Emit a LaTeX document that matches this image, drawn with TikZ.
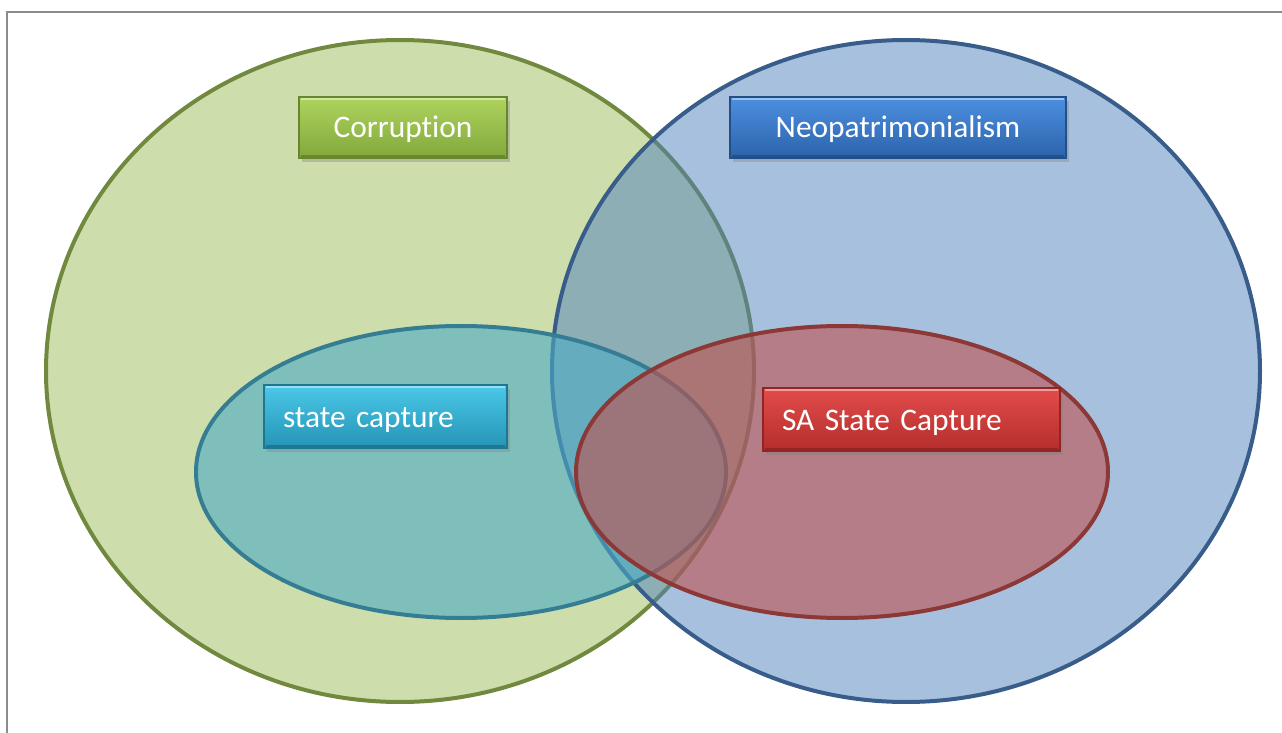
\documentclass[tikz,border=0pt]{standalone}
\usepackage{fontspec}
\setmainfont[Ligatures={NoCommon}]{Carlito}
\usetikzlibrary{shadows}
\definecolor{framegray}{HTML}{8C8C8C}
\definecolor{corrfill}{HTML}{9BBB59}
\definecolor{corrline}{HTML}{71893F}
\definecolor{neofill}{HTML}{4F81BD}
\definecolor{neoline}{HTML}{385D8A}
\definecolor{capfill}{HTML}{4BACC6}
\definecolor{capline}{HTML}{357D92}
\definecolor{safill}{HTML}{C0504D}
\definecolor{saline}{HTML}{8C3836}
\definecolor{corrtop}{HTML}{AED35E}
\definecolor{corrbot}{HTML}{82A83C}
\definecolor{neotop}{HTML}{4C8FE0}
\definecolor{neobot}{HTML}{2C63AB}
\definecolor{captop}{HTML}{4BC8E8}
\definecolor{capbot}{HTML}{2594B6}
\definecolor{satop}{HTML}{E24C4A}
\definecolor{sabot}{HTML}{B32E2D}
\begin{document}
\begin{tikzpicture}[x=0.5pt,y=-0.5pt,
    venn/.style={line width=2pt,fill opacity=0.5},
    vennsmall/.style={line width=2pt,fill opacity=0.6},
    tagbox/.style={rectangle,inner sep=0pt,text=white,font=\fontsize{15.7}{18}\selectfont,
      minimum height=30.5pt,line width=0.6pt,text height=13pt,text depth=2.5pt,
      drop shadow={shadow xshift=1.5pt,shadow yshift=-2pt,opacity=0.35},
      path picture={\draw [white,opacity=0.45,line width=1.2pt]
        ([xshift=1pt,yshift=-0.8pt]path picture bounding box.north west) --
        ([xshift=-1pt,yshift=-0.8pt]path picture bounding box.north east);
        \draw [black,opacity=0.2,line width=1.5pt]
        ([xshift=1pt,yshift=0.9pt]path picture bounding box.south west) --
        ([xshift=-1pt,yshift=0.9pt]path picture bounding box.south east);}},
    tagleft/.style={tagbox,align=left,inner xsep=9.5pt,minimum height=31.5pt}]
    \useasboundingbox (0,0) rectangle (1282,733);
    \draw [framegray, line width=1pt] (7,733) -- (7,12) -- (1282,12);
    % the four sets
    \draw [venn, draw=corrline, fill=corrfill] (400,371) ellipse [x radius=177pt, y radius=165.5pt];
    \draw [venn, draw=neoline, fill=neofill] (906,371) ellipse [x radius=177pt, y radius=165.5pt];
    \draw [vennsmall, draw=capline, fill=capfill] (461,472) ellipse [x radius=132.5pt, y radius=73pt];
    \draw [vennsmall, draw=saline, fill=safill] (842,472) ellipse [x radius=133pt, y radius=73pt];
    % labels
    \node [tagbox, minimum width=104pt, draw=corrbot!80!black, top color=corrtop, bottom color=corrbot]
      (corruption) at (403,127.5) {Corruption};
    \node [tagbox, minimum width=168pt, draw=neobot!80!black, top color=neotop, bottom color=neobot]
      (neopat) at (898,127.5) {Neopatrimonialism};
    \node [tagleft, text width=102.5pt, draw=capbot!80!black, top color=captop, bottom color=capbot]
      (statecap) at (385.5,416.5) {state capture};
    \node [tagleft, text width=129.5pt, draw=sabot!80!black, top color=satop, bottom color=sabot]
      (sacap) at (911.5,419.5) {SA State Capture};
\end{tikzpicture}
\end{document}
